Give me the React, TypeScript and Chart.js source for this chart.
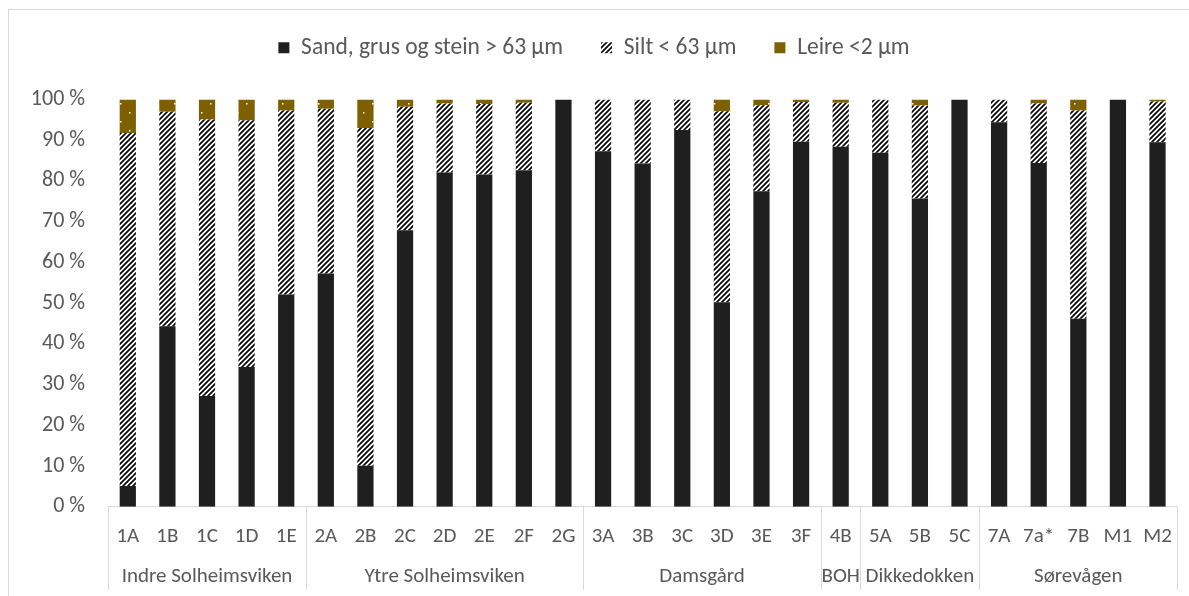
import React, { useEffect, useRef } from "react";
import { Chart, registerables } from "chart.js";

Chart.register(...registerables);

// Sample sites along the x axis
const categories = [
  "1A", "1B", "1C", "1D", "1E",
  "2A", "2B", "2C", "2D", "2E", "2F", "2G",
  "3A", "3B", "3C", "3D", "3E", "3F",
  "4B",
  "5A", "5B", "5C",
  "7A", "7a*", "7B", "M1", "M2",
];

// Site groups (name + number of samples in each)
const groupNames = ["Indre Solheimsviken", "Ytre Solheimsviken", "Damsgård", "BOH", "Dikkedokken", "Sørevågen"];
const groupSizes = [5, 7, 6, 1, 3, 5];

// Grain-size fractions, percent of sample
const sand = [5.1, 44.3, 27.2, 34.3, 52.1, 57.3, 10.1, 67.9, 82.1, 81.6, 82.6, 100, 87.3, 84.3, 92.5, 50.2, 77.5, 89.6, 88.4, 86.9, 75.7, 100, 94.4, 84.4, 46.2, 100, 89.5];
const silt = [86.7, 52.7, 67.9, 60.6, 45.2, 40.4, 82.9, 30.3, 16.9, 17.3, 16.6, 0, 12.7, 15.7, 7.5, 46.9, 21.1, 9.8, 10.8, 13.1, 22.8, 0, 5.6, 14.6, 51.1, 0, 10.0];
const clay = [8.2, 3.0, 4.9, 5.1, 2.7, 2.3, 7.0, 1.8, 1.0, 1.1, 0.8, 0, 0, 0, 0, 2.9, 1.4, 0.6, 0.8, 0, 1.5, 0, 0, 1.0, 2.7, 0, 0.5];

const seriesLabels = ["Sand, grus og stein > 63 µm", "Silt < 63 µm", "Leire <2 µm"];
const yTicks = [0, 10, 20, 30, 40, 50, 60, 70, 80, 90, 100];

const FONT = "Carlito, Calibri, Lato, sans-serif";
const TEXT = "#595959";
const LINE = "#d9d9d9";

// Dashed upward-diagonal hatch for the silt fraction
function hatchPattern(): CanvasPattern | string {
  const s = 5;
  const c = document.createElement("canvas");
  c.width = s;
  c.height = s;
  const g = c.getContext("2d");
  if (!g) return "#888";
  g.fillStyle = "#fff";
  g.fillRect(0, 0, s, s);
  g.strokeStyle = "#000";
  g.lineWidth = 1.7;
  g.beginPath();
  g.moveTo(-1, s + 1);
  g.lineTo(s + 1, -1);
  g.moveTo(-1, 1);
  g.lineTo(1, -1);
  g.moveTo(s - 1, s + 1);
  g.lineTo(s + 1, s - 1);
  g.stroke();
  return g.createPattern(c, "repeat") || "#888";
}

// Sparse white dots on dark gold for the clay fraction
function dotPattern(): CanvasPattern | string {
  const c = document.createElement("canvas");
  c.width = 18;
  c.height = 18;
  const g = c.getContext("2d");
  if (!g) return "#7f6000";
  g.fillStyle = "#7f6000";
  g.fillRect(0, 0, 18, 18);
  g.fillStyle = "#ffffff";
  g.fillRect(3, 3, 1.5, 1.5);
  g.fillRect(12, 12, 1.5, 1.5);
  return g.createPattern(c, "repeat") || "#7f6000";
}

// Group separators and group names under the category labels
const groupAxis = {
  id: "groupAxis",
  afterDraw(chart: any) {
    const x = chart.scales.x;
    const area = chart.chartArea;
    const ctx = chart.ctx;
    const step = (x.right - x.left) / categories.length;
    const bottom = area.bottom + 83;
    ctx.save();
    ctx.strokeStyle = LINE;
    ctx.lineWidth = 1;
    ctx.fillStyle = TEXT;
    ctx.font = `21px ${FONT}`;
    ctx.textAlign = "center";
    ctx.textBaseline = "middle";
    let start = 0;
    const edge = (i: number) => Math.round(x.left + i * step) + 0.5;
    ctx.beginPath();
    ctx.moveTo(edge(0), area.bottom);
    ctx.lineTo(edge(0), bottom);
    ctx.stroke();
    groupSizes.forEach((n, gi) => {
      const end = start + n;
      ctx.beginPath();
      ctx.moveTo(edge(end), area.bottom);
      ctx.lineTo(edge(end), bottom);
      ctx.stroke();
      ctx.fillText(groupNames[gi], x.left + ((start + end) / 2) * step, area.bottom + 70);
      start = end;
    });
    ctx.restore();
  },
};

// Extra room between legend and plot
const legendGap = {
  id: "legendGap",
  beforeInit(chart: any) {
    const fit = chart.legend.fit;
    chart.legend.fit = function () {
      fit.call(this);
      this.height += 30;
    };
  },
};

export default function App() {
  const ref = useRef<HTMLCanvasElement>(null);

  useEffect(() => {
    if (!ref.current) return;
    const chart = new Chart(ref.current, {
      type: "bar",
      data: {
        labels: categories,
        datasets: [
          { label: seriesLabels[0], data: sand, backgroundColor: "#1f1f1f", borderWidth: 0 },
          { label: seriesLabels[1], data: silt, backgroundColor: hatchPattern() as any, borderWidth: 0 },
          { label: seriesLabels[2], data: clay, backgroundColor: dotPattern() as any, borderWidth: 0 },
        ],
      },
      options: {
        animation: false,
        responsive: true,
        maintainAspectRatio: false,
        datasets: { bar: { categoryPercentage: 1, barPercentage: 0.41 } },
        layout: { padding: { top: -12, bottom: 30, left: 0, right: 10 } },
        plugins: {
          tooltip: { enabled: false },
          legend: {
            position: "top",
            labels: {
              color: TEXT,
              font: { family: FONT, size: 23.5 },
              boxWidth: 11,
              boxHeight: 11,
              padding: 38,
            },
          },
        },
        scales: {
          x: {
            stacked: true,
            grid: { display: false, drawTicks: false },
            border: { display: true, color: LINE, width: 1 },
            ticks: { color: TEXT, font: { family: FONT, size: 21 }, padding: 17, maxRotation: 0, autoSkip: false },
          },
          y: {
            stacked: true,
            min: 0,
            max: 100,
            afterBuildTicks(scale: any) {
              scale.ticks = yTicks.map((v) => ({ value: v }));
            },
            afterFit(scale: any) {
              scale.width = 99;
            },
            grid: { display: false, drawTicks: false },
            border: { display: false },
            ticks: {
              color: TEXT,
              font: { family: FONT, size: 22 },
              padding: 23,
              callback: (v: any) => `${v} %`,
            },
          },
        },
      },
      plugins: [groupAxis, legendGap],
    });
    return () => chart.destroy();
  }, []);

  return (
    <div
      style={{
        position: "fixed",
        left: 8,
        top: 9,
        width: 1181,
        height: 600,
        boxSizing: "border-box",
        borderTop: `1px solid ${LINE}`,
        borderLeft: `1px solid ${LINE}`,
        background: "#fff",
      }}
    >
      <div style={{ position: "relative", width: 1180, height: 586 }}>
        <canvas ref={ref} />
      </div>
    </div>
  );
}
